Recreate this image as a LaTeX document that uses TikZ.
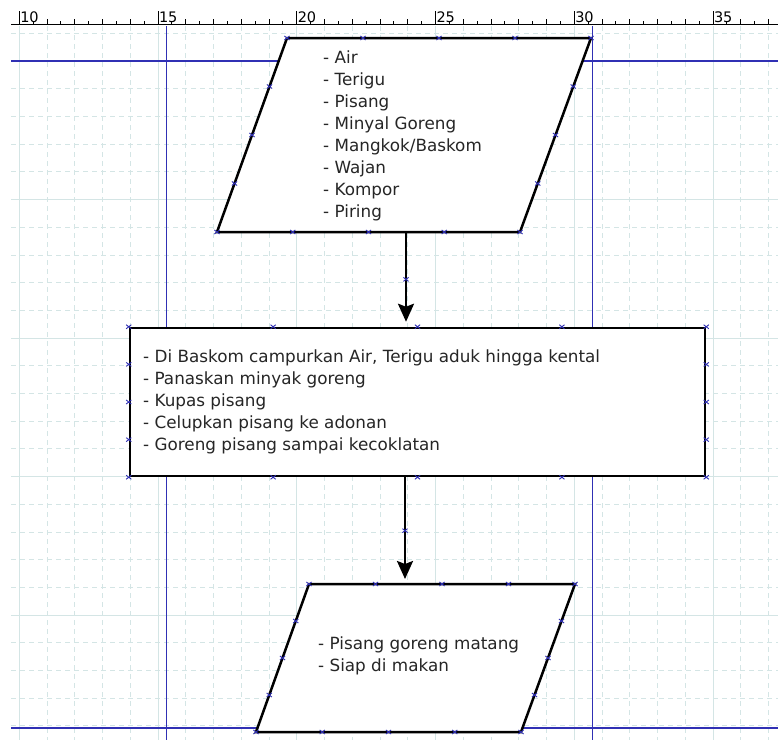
\documentclass[tikz,border=0pt]{standalone}
\usepackage{fontspec}
\setmainfont{DejaVu Sans}
\usetikzlibrary{arrows.meta,calc}
\definecolor{kisi}{RGB}{212,229,229}
\definecolor{pandu}{RGB}{48,48,180}
\definecolor{teks}{RGB}{38,38,38}
\tikzset{
	bentuk/.style={line width=2.5pt, fill=white, line join=miter},
	panah/.style={line width=2.5pt, -{Stealth[length=18pt,width=16pt,inset=3pt]}, shorten >=5pt},
	isi/.style={align=left, inner sep=0pt, anchor=north west, text=teks, font=\fontsize{16.8}{22.1}\selectfont},
	titik/.style={pandu, line width=0.9pt},
	angka/.style={anchor=base west, inner sep=0pt, font=\fontsize{14.5}{14.5}\selectfont},
}
\begin{document}
\begin{tikzpicture}[x=1pt,y=-1pt]
		\useasboundingbox[fill=white] (0,0) rectangle (778,740);
	
		% penggaris
		\draw[line width=0.8pt] (11,24) -- (778,24);
		\foreach \u [evaluate=\u as \xx using 19.25+(\u-10)*27.75] in {10,...,37} {
			\draw[line width=0.8pt] (\xx,19) -- (\xx,24);
			\draw[line width=0.8pt] (\xx+13.875,21) -- (\xx+13.875,24);
		}
		\foreach \u [evaluate=\u as \xx using 19.25+(\u-10)*27.75] in {10,15,...,35} {
			\draw[line width=0.8pt] (\xx,11) -- (\xx,24);
			\node[angka] (r\u) at (\xx+0.8,22) {\u};
		}
	
		% kisi-kisi
		\begin{scope}[kisi, line width=0.8pt]
			\foreach \u [evaluate=\u as \xx using 19.25+(\u-10)*27.75] in {10,...,37}
				\draw[dash pattern=on 5pt off 4pt] (\xx,26) -- (\xx,740);
			\foreach \v [evaluate=\v as \yy using 61+\v*27.7] in {-1,...,24}
				\draw[dash pattern=on 5pt off 4pt] (11,\yy) -- (778,\yy);
			\foreach \u [evaluate=\u as \xx using 19.25+(\u-10)*27.75] in {10,15,...,35}
				\draw (\xx,26) -- (\xx,740);
			\foreach \v [evaluate=\v as \yy using 61+\v*27.7] in {0,5,...,20}
				\draw (11,\yy) -- (778,\yy);
		\end{scope}
	
		% garis pandu
		\draw[pandu, line width=1.2pt] (11,61) -- (778,61);
		\draw[pandu, line width=1.2pt] (11,728) -- (778,728);
		\draw[pandu, line width=1.2pt] (166.5,26) -- (166.5,740);
		\draw[pandu, line width=1.2pt] (592.8,26) -- (592.8,740);
	
		% bentuk
		\draw[bentuk] (287,38) coordinate (b1) -- (591,38) coordinate (b2) -- (520,232) coordinate (b3) -- (217,232) coordinate (b4) -- cycle;
		\node[bentuk, draw, minimum width=575pt, minimum height=148pt, inner sep=0pt] (proses) at (417.5,402) {};
		\draw[bentuk] (309,584) coordinate (h1) -- (575,584) coordinate (h2) -- (521,732) coordinate (h3) -- (256,732) coordinate (h4) -- cycle;
	
		\node[isi] (bahan) at (323,50.3) {- Air\\- Terigu\\- Pisang\\- Minyal Goreng\\- Mangkok/Baskom\\- Wajan\\- Kompor\\- Piring};
		\node[isi] (langkah) at (143,349.2) {- Di Baskom campurkan Air, Terigu aduk hingga kental\\- Panaskan minyak goreng\\- Kupas pisang\\- Celupkan pisang ke adonan\\- Goreng pisang sampai kecoklatan};
		\node[isi] (hasil) at (318,636.3) {- Pisang goreng matang\\- Siap di makan};
	
		\coordinate (keluar) at (406,232);
		\coordinate (masuk) at (405,584);
		\draw[panah] (keluar) -- (keluar |- proses.north);
		\draw[panah] (masuk |- proses.south) -- (masuk);
	
		% titik sambung
		\foreach \s/\e in {b1/b2,b2/b3,b3/b4,b4/b1,h1/h2,h2/h3,h3/h4,h4/h1,proses.north west/proses.north east,proses.north east/proses.south east,proses.south east/proses.south west,proses.south west/proses.north west}
			\foreach \t in {0,0.25,0.5,0.75}
				\draw[titik] ($(\s)!\t!(\e)$) +(-2.6,-2) -- +(2.6,2) +(-2.6,2) -- +(2.6,-2);
		\draw[titik] ($(keluar)!0.5!(keluar |- proses.north)$) +(-2.6,-2) -- +(2.6,2) +(-2.6,2) -- +(2.6,-2);
		\draw[titik] ($(masuk)!0.5!(masuk |- proses.south)$) +(-2.6,-2) -- +(2.6,2) +(-2.6,2) -- +(2.6,-2);
	\end{tikzpicture}
\end{document}
